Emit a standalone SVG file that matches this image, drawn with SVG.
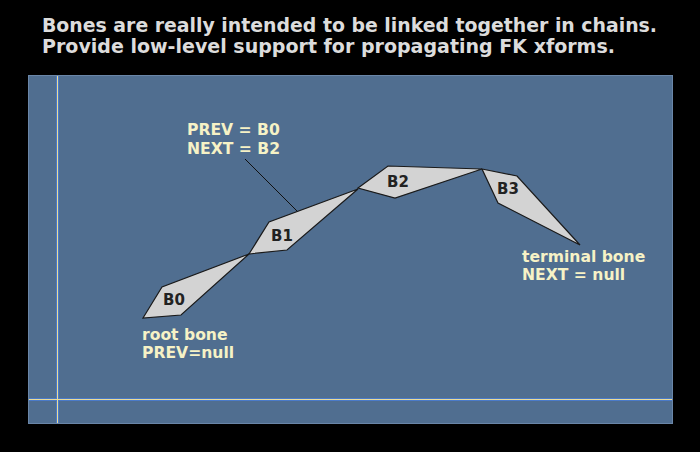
<svg xmlns="http://www.w3.org/2000/svg" width="700" height="452" viewBox="0 0 700 452">
<style>
.title{font-family:"DejaVu Sans Condensed","DejaVu Sans",sans-serif;font-weight:bold;font-size:19px;fill:#dcdcdc}
.bone{fill:#d3d3d3;stroke:#1a1a1a;stroke-width:1.2;stroke-linejoin:miter}
.bl{font-family:"DejaVu Sans",Verdana,sans-serif;font-weight:bold;font-size:15px;fill:#222}
.note{font-family:"DejaVu Sans",Verdana,sans-serif;font-weight:bold;font-size:15.6px;fill:#f6f2c6}
.gridb{stroke:#4a7ac8;stroke-width:3}
.gridy{stroke:#ecdc98;stroke-width:1}
</style>
<rect x="0" y="0" width="700" height="452" fill="#000"/>
<text class="title" x="42" y="32" textLength="615" lengthAdjust="spacingAndGlyphs">Bones are really intended to be linked together in chains.</text>
<text class="title" x="42" y="53" textLength="573" lengthAdjust="spacingAndGlyphs">Provide low-level support for propagating FK xforms.</text>
<rect x="28.5" y="75.5" width="644" height="348" fill="#506e90" stroke="#6a86a8" stroke-width="1"/>
<g id="grid">
<line class="gridb" x1="57.5" y1="76" x2="57.5" y2="423"/>
<line class="gridb" x1="29" y1="399.5" x2="672" y2="399.5"/>
<line class="gridy" x1="57.5" y1="76" x2="57.5" y2="423"/>
<line class="gridy" x1="29" y1="399.5" x2="672" y2="399.5"/>
</g>
<g id="connectors">
<line x1="245" y1="159" x2="300" y2="214" stroke="#111" stroke-width="1"/>
</g>
<g id="b0">
<polygon class="bone" points="143,318 162,287 249,254 181,315"/>
<text class="bl" x="163" y="305">B0</text>
</g>
<g id="b1">
<polygon class="bone" points="249,254 269,222 358,189 287,250"/>
<text class="bl" x="271" y="241">B1</text>
</g>
<g id="b2">
<polygon class="bone" points="358,188 388,166 482,169 395,198"/>
<text class="bl" x="387" y="187">B2</text>
</g>
<g id="b3">
<polygon class="bone" points="482,169 517,176 580,245 498,203"/>
<text class="bl" x="497" y="194">B3</text>
</g>
<g id="label-b1">
<text class="note" x="187" y="135">PREV = B0</text>
<text class="note" x="187" y="154">NEXT = B2</text>
</g>
<g id="label-root">
<text class="note" x="142" y="340">root bone</text>
<text class="note" x="142" y="358">PREV=null</text>
</g>
<g id="label-terminal">
<text class="note" x="522" y="262">terminal bone</text>
<text class="note" x="522" y="280">NEXT = null</text>
</g>
</svg>
